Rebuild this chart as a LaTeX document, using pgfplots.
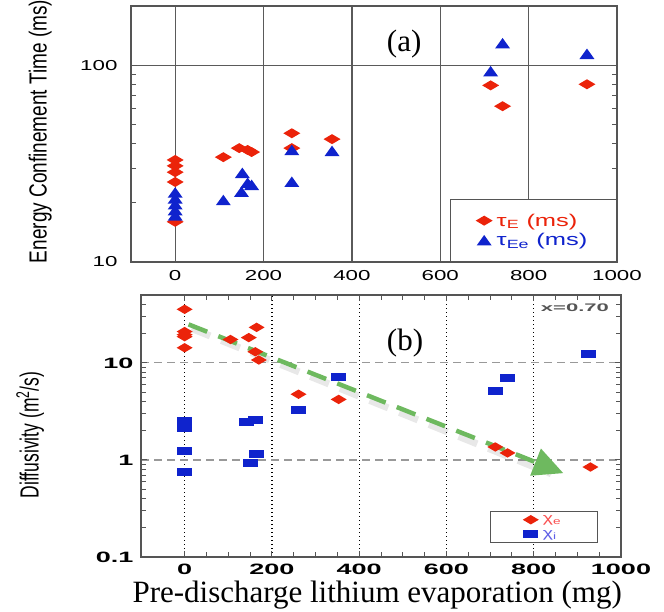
\documentclass[border=0pt]{standalone}
\usepackage{pgfplots}
\pgfplotsset{compat=1.18}
\usepackage{fontspec}
\setmainfont{Liberation Sans}
\newfontfamily\tnr{Liberation Serif}
\usetikzlibrary{arrows.meta}
\usepackage{graphicx}

\definecolor{myred}{RGB}{235,35,10}
\definecolor{myblue}{RGB}{15,35,205}
\definecolor{mygreen}{RGB}{110,185,95}
\definecolor{axgray}{RGB}{85,85,85}
\definecolor{gridgray}{RGB}{90,90,90}
\definecolor{chie}{RGB}{250,80,80}
\definecolor{chii}{RGB}{95,95,230}

\newcommand\ta[1]{\scalebox{1.55}[1]{\fontsize{14.4}{16}\selectfont #1}}
\newcommand\tb[1]{\scalebox{1.8}[1]{\fontsize{15}{17}\selectfont\bfseries #1}}

\pgfdeclareplotmark{dA}{\pgfpathmoveto{\pgfqpoint{0pt}{5pt}}\pgfpathlineto{\pgfqpoint{8.5pt}{0pt}}\pgfpathlineto{\pgfqpoint{0pt}{-5pt}}\pgfpathlineto{\pgfqpoint{-8.5pt}{0pt}}\pgfpathclose\pgfusepathqfill}
\pgfdeclareplotmark{tA}{\pgfpathmoveto{\pgfqpoint{0pt}{5.5pt}}\pgfpathlineto{\pgfqpoint{7.5pt}{-5pt}}\pgfpathlineto{\pgfqpoint{-7.5pt}{-5pt}}\pgfpathclose\pgfusepathqfill}
\pgfdeclareplotmark{dB}{\pgfpathmoveto{\pgfqpoint{0pt}{4.7pt}}\pgfpathlineto{\pgfqpoint{8pt}{0pt}}\pgfpathlineto{\pgfqpoint{0pt}{-4.7pt}}\pgfpathlineto{\pgfqpoint{-8pt}{0pt}}\pgfpathclose\pgfusepathqfill}
\pgfdeclareplotmark{sB}{\pgfpathrectangle{\pgfqpoint{-7.5pt}{-4pt}}{\pgfqpoint{15pt}{8pt}}\pgfusepathqfill}

\begin{document}
\begin{tikzpicture}
\useasboundingbox (0pt,0pt) rectangle (664pt,612pt);

% ---------------- panel (a)
\begin{axis}[
  at={(131pt,350pt)}, anchor=south west,
  scale only axis, width=486pt, height=256pt,
  xmin=-100, xmax=1000, ymode=log, ymin=10, ymax=200,
  axis line style={draw=axgray, line width=1.3pt},
  xtick={0,200,400,600,800,1000},
  xticklabels={\ta{0},\ta{200},\ta{400},\ta{600},\ta{800},\ta{1000}},
  ytick={10,100}, yticklabels={\ta{10},\ta{100}},
  minor ytick={20,30,40,50,60,70,80,90},
  xtick style={draw=none},
  tick style={axgray, line width=0.9pt},
  major tick length=6pt, minor tick length=5pt,
  tick pos=both, xticklabel pos=lower, yticklabel pos=left,
  xticklabel style={yshift=-5pt},
  yticklabel style={xshift=-10pt},
  xmajorgrids, ymajorgrids,
  major grid style={draw=gridgray, line width=1.2pt},
  every axis y label/.style={at={(axis description cs:-0.187,0.51)}, rotate=90, anchor=center},
  ylabel={\scalebox{1}[1.3]{\fontsize{19}{21}\selectfont Energy Confinement Time (ms)}},
  legend style={at={(1,0)}, anchor=south east, draw=axgray, line width=1.2pt, fill=white,
    font=\fontsize{17}{19}\selectfont, inner xsep=25pt, inner ysep=13pt, row sep=4pt,
    nodes={inner ysep=1pt, inner xsep=4pt}},
  legend cell align=left,
]
\addplot[only marks, mark=dA, color=myred] coordinates {
 (0,33.0) (0,30.8) (0,28.6) (0,25.5) (0,16.0)
 (109,34.1) (145,37.9) (164,37.1) (173,36.2)
 (264,45.1) (264,37.9) (355,42.1)
 (714,79) (741,61.9) (932,80)};
\addlegendentry{\textcolor{myred}{\scalebox{1.5}[1]{τ\textsubscript{E} (ms)}}}
\addplot[only marks, mark=tA, color=myblue] coordinates {
 (0,22.5) (0,21.0) (0,19.6) (0,18.3) (0,17.2)
 (109,20.6) (150,22.7) (152,28.3) (164,25.2) (173,24.6)
 (264,37.0) (264,25.5) (355,36.6)
 (714,93) (741,129) (932,114)};
\addlegendentry{\textcolor{myblue}{\scalebox{1.5}[1]{τ\textsubscript{Ee} (ms)}}}
\node[font=\tnr\fontsize{31}{34}\selectfont] at (axis description cs:0.562,0.852) {(a)};
\end{axis}

% ---------------- panel (b)
\begin{axis}[
  at={(141pt,55pt)}, anchor=south west,
  scale only axis, width=480pt, height=262pt,
  xmin=-100, xmax=1000, ymode=log, ymin=0.1, ymax=50,
  axis line style={draw=axgray, line width=1.3pt},
  xtick={0,200,400,600,800,1000},
  xticklabels={\tb{0},\tb{200},\tb{400},\tb{600},\tb{800},\tb{1000}},
  minor x tick num=3,
  ytick={0.1,1,10}, yticklabels={\tb{0.1},\tb{1},\tb{10}},
  minor ytick={0.2,0.3,0.4,0.5,0.6,0.7,0.8,0.9,2,3,4,5,6,7,8,9,20,30,40},
  tick style={axgray, line width=0.9pt},
  major tick length=6pt, minor tick length=5pt,
  tick pos=both, xticklabel pos=lower, yticklabel pos=left,
  xticklabel style={yshift=-3pt},
  yticklabel style={xshift=-4pt},
  xmajorgrids, ymajorgrids,
  x grid style={draw=black, line width=1.3pt, dash pattern=on 1.4pt off 2.6pt},
  y grid style={draw=gray!80, line width=1.2pt, dash pattern=on 8pt off 5pt},
  every axis y label/.style={at={(axis description cs:-0.231,0.466)}, rotate=90, anchor=center},
  ylabel={\scalebox{1}[1.5]{\fontsize{17.5}{20}\selectfont Diffusivity (m\textsuperscript{2}/s)}},
  every axis x label/.style={at={(axis description cs:0.492,-0.172)}, anchor=base},
  xlabel={\tnr\fontsize{31}{34}\selectfont Pre-discharge lithium evaporation (mg)},
  legend style={at={(0.952,0.053)}, anchor=south east, draw=axgray, line width=1.2pt, fill=white,
    font=\fontsize{13}{14}\selectfont, inner xsep=32pt, inner ysep=3pt, row sep=4pt,
    nodes={inner ysep=1pt, inner xsep=4pt}},
  legend cell align=left,
]
\addplot[only marks, mark=dB, color=myred] coordinates {
 (0,35.6) (0,21.0) (0,19.5) (0,18.6) (0,14.3)
 (105,17.4) (147,18.2) (165,23.2) (162,13.0) (170,10.7)
 (261,4.75) (353,4.2) (712,1.36) (740,1.18) (930,0.845)};
\addlegendentry{\textcolor{chie}{\scalebox{1.5}[1]{χ\textsubscript{e}}}}
\addplot[only marks, mark=sB, color=myblue] coordinates {
 (0,2.5) (0,2.3) (0,2.15) (0,1.24) (0,0.75)
 (142,2.43) (162,2.6) (151,0.93) (165,1.15)
 (261,3.3) (353,7.1) (712,5.1) (740,6.9) (926,12.4)};
\addlegendentry{\textcolor{chii}{\scalebox{1.5}[1]{χ\textsubscript{i}}}}
% shadow of the arrow
\addplot[forget plot, draw=black, opacity=0.09, line width=7pt, dash pattern=on 20pt off 12pt]
  coordinates {(16,22.6) (840,0.72)};
% green dashed trend arrow
\addplot[forget plot, draw=mygreen, line width=4.5pt, dash pattern=on 20pt off 12pt,
  -{Triangle[length=30pt,width=28pt]}]
  coordinates {(9,24.9) (868,0.73)};
\node[font=\tnr\fontsize{31}{34}\selectfont] at (axis description cs:0.55,0.817) {(b)};
\node[text=axgray] at (axis description cs:0.904,0.950) {\scalebox{2}[1]{\fontsize{11}{12}\selectfont\bfseries x=0.70}};
\end{axis}
\end{tikzpicture}
\end{document}
